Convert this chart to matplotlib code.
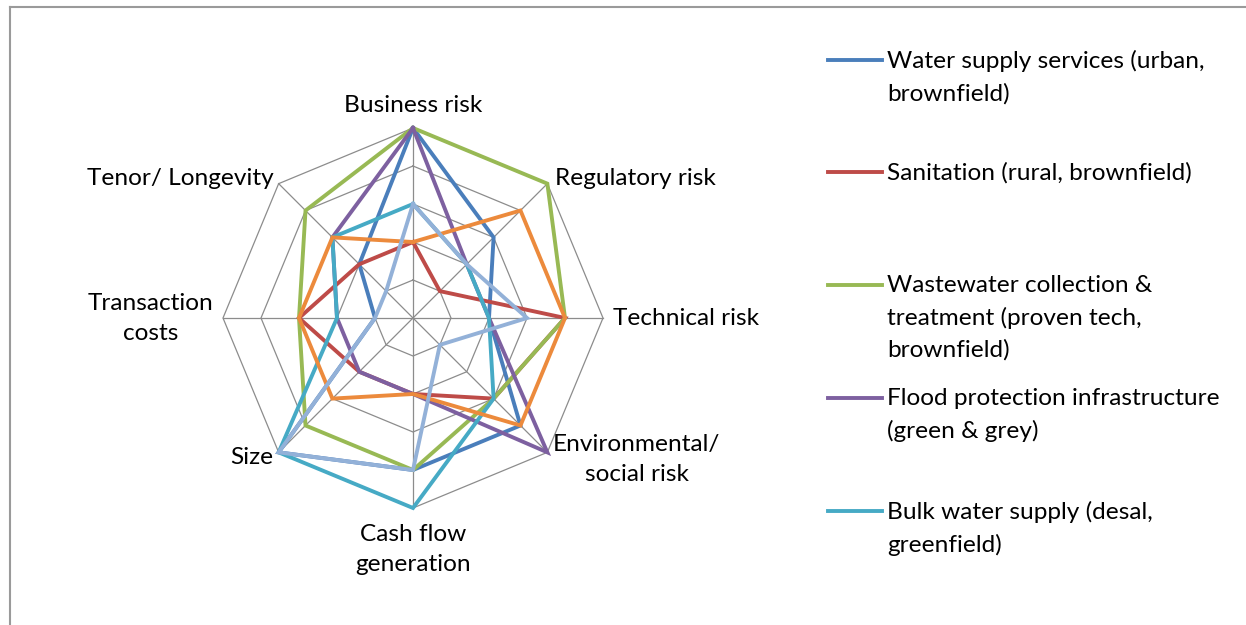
import numpy as np
import matplotlib.pyplot as plt
from matplotlib.lines import Line2D

# criteria around the radar, clockwise from the top
criteria = ["Business risk", "Regulatory risk", "Technical risk",
            "Environmental/\nsocial risk", "Cash flow\ngeneration", "Size",
            "Transaction\ncosts", "Tenor/ Longevity"]

water_supply = [5, 3, 2, 4, 4, 5, 1, 2]
sanitation = [2, 1, 4, 3, 2, 2, 3, 2]
wastewater = [5, 5, 4, 3, 4, 4, 3, 4]
flood = [5, 2, 2, 5, 2, 2, 2, 3]
bulk_water = [3, 2, 2, 3, 5, 5, 2, 3]
series_6 = [2, 4, 4, 4, 2, 3, 3, 3]
series_7 = [3, 2, 3, 1, 4, 5, 1, 1]

names = ["Water supply services (urban,\nbrownfield)",
         "Sanitation (rural, brownfield)",
         "Wastewater collection &\ntreatment (proven tech,\nbrownfield)",
         "Flood protection infrastructure\n(green & grey)",
         "Bulk water supply (desal,\ngreenfield)"]

series = [water_supply, sanitation, wastewater, flood, bulk_water, series_6, series_7]
colors = ["#4A7EBB", "#BE4B48", "#98B954", "#7D60A0", "#46AAC5", "#EC8A3C", "#93B1D8"]

plt.rcParams["font.family"] = ["Lato", "DejaVu Sans"]
FS = 17.6

W, H = 1246, 625
fig = plt.figure(figsize=(W / 100, H / 100), dpi=100)

# radar area: centre at (413, 318) px, 38 px per unit
cx, cy, unit, half = 413, 318, 38, 250
ax = fig.add_axes([(cx - half) / W, (H - cy - half) / H, 2 * half / W, 2 * half / H])
lim = half / unit
ax.set_xlim(-lim, lim)
ax.set_ylim(-lim, lim)
ax.axis("off")

n = len(criteria)
ang = np.pi / 2 - np.arange(n) * 2 * np.pi / n
ux, uy = np.cos(ang), np.sin(ang)

# octagonal grid and spokes
for level in range(1, 6):
    ax.plot(np.append(ux, ux[0]) * level, np.append(uy, uy[0]) * level,
            color="#8C8C8C", lw=0.9, zorder=1)
for i in range(n):
    ax.plot([0, ux[i] * 5], [0, uy[i] * 5], color="#8C8C8C", lw=0.9, zorder=1)

for vals, c in zip(series, colors):
    v = np.array(vals + vals[:1], dtype=float)
    ax.plot(v * np.append(ux, ux[0]), v * np.append(uy, uy[0]), color=c,
            lw=2.8, solid_joinstyle="miter", zorder=3)

# category labels
label_pos = [(0, 5.6, "center"), (3.74, 3.66, "left"), (5.26, -0.02, "left"),
             (5.89, -3.72, "center"), (0, -6.1, "center"), (-3.68, -3.68, "right"),
             (-6.9, -0.02, "center"), (-3.66, 3.66, "right")]
for (x, y, ha), txt in zip(label_pos, criteria):
    ax.text(x, y, txt, ha=ha, va="center", fontsize=FS, linespacing=1.55,
            multialignment="center", color="black")

# legend, first five series
leg_y = [60, 172, 285, 398, 511]
for y, name, c in zip(leg_y, names, colors):
    fig.add_artist(Line2D([828 / W, 882 / W], [1 - y / H, 1 - y / H], color=c, lw=2.8))
    fig.text(887 / W, 1 - (y - 10) / H, name, ha="left", va="top", fontsize=FS,
             linespacing=1.6)

# chart frame
fig.add_artist(Line2D([10 / W, 1], [1 - 6.5 / H, 1 - 6.5 / H], color="#9A9A9A", lw=1.5))
fig.add_artist(Line2D([10 / W, 10 / W], [0, 1 - 6.5 / H], color="#9A9A9A", lw=1.5))

fig.savefig("out.png", dpi=100)
